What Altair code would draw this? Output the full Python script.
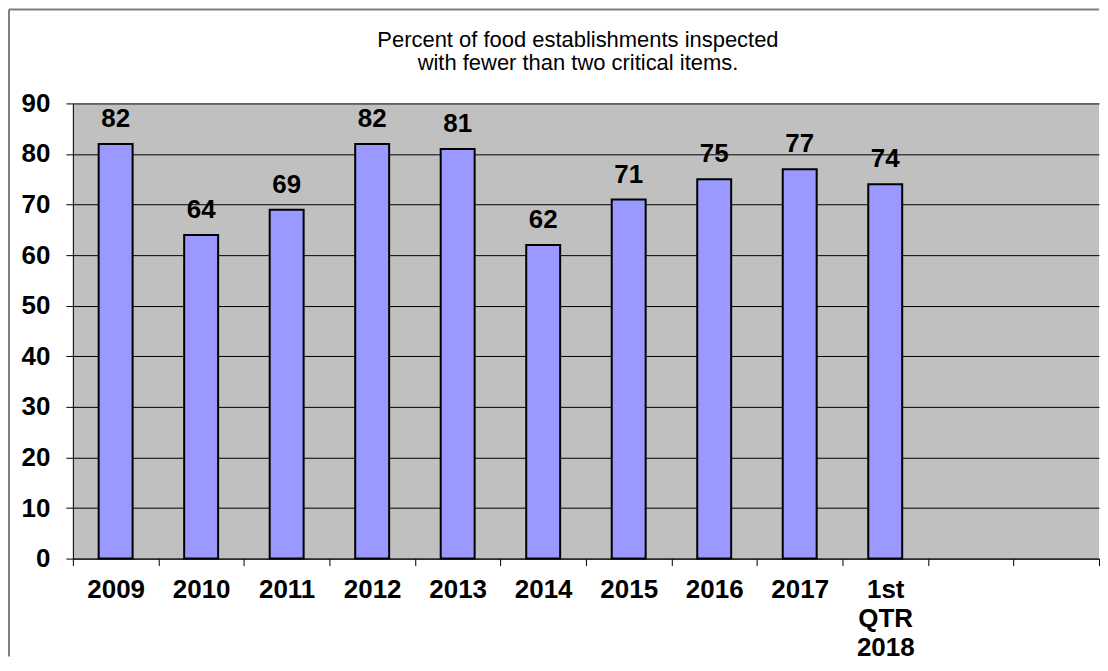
import altair as alt
import pandas as pd

categories = ["2009", "2010", "2011", "2012", "2013", "2014", "2015", "2016", "2017", "1st|QTR|2018"]
values = [82, 64, 69, 82, 81, 62, 71, 75, 77, 74]
blank_slots = ["_b1", "_b2"]
y_ticks = [0, 10, 20, 30, 40, 50, 60, 70, 80, 90]
title_lines = ["Percent of food establishments inspected", "with fewer than two critical items."]

FONT = "Liberation Sans, Arial, sans-serif"
W, H = 1028, 456

df = pd.DataFrame({"cat": categories, "val": values})
domain = categories + blank_slots

x_enc = alt.X(
    "cat:N",
    scale=alt.Scale(domain=domain, paddingInner=0, paddingOuter=0),
    sort=domain,
    axis=alt.Axis(
        title=None,
        labelAngle=0,
        labelFont=FONT,
        labelFontSize=26,
        labelFontWeight="bold",
        labelColor="black",
        labelPadding=11,
        labelLineHeight=29,
        labelExpr="isString(datum.value) && substring(datum.value, 0, 1) != '_' ? split(datum.value, '|') : ''",
        tickBand="extent",
        tickSize=7,
        tickColor="black",
        domainColor="black",
        domainWidth=1,
        grid=False,
    ),
)
y_enc = alt.Y(
    "val:Q",
    scale=alt.Scale(domain=[0, 90], nice=False),
    axis=alt.Axis(
        title=None,
        values=y_ticks,
        labelFont=FONT,
        labelFontSize=26,
        labelFontWeight="bold",
        labelColor="black",
        labelPadding=16,
        tickSize=7,
        tickColor="black",
        domainColor="black",
        grid=True,
        gridColor="black",
        gridWidth=1,
    ),
)

bars = alt.Chart(df).mark_bar(size=34, fill="#9999FF", stroke="black", strokeWidth=2).encode(
    x=x_enc, y=y_enc
)
labels = alt.Chart(df).mark_text(
    baseline="bottom", dy=-12, font=FONT, fontSize=26, fontWeight="bold", color="black"
).encode(x=alt.X("cat:N", sort=domain), y="val:Q", text="val:Q")

frame_df = pd.DataFrame({"a": [0]})
left_line = alt.Chart(frame_df).mark_rule(color="#7f7f7f", strokeWidth=2).encode(
    x=alt.value(-64), y=alt.value(-94), y2=alt.value(H + 98)
)
top_line = alt.Chart(frame_df).mark_rule(color="#7f7f7f", strokeWidth=2).encode(
    x=alt.value(-64), x2=alt.value(W), y=alt.value(-94)
)

chart = alt.layer(bars, labels, left_line, top_line).properties(
    width=W,
    height=H,
    padding=0,
    title=alt.TitleParams(
        text=title_lines,
        font=FONT,
        fontSize=22,
        fontWeight="normal",
        color="black",
        anchor="middle",
        lineHeight=24,
        offset=-67,
        dx=-8,
    ),
).configure(background="white").configure_view(fill="#C0C0C0", stroke=None)

chart.save("out.html", embed_options={"renderer": "svg", "actions": False})
